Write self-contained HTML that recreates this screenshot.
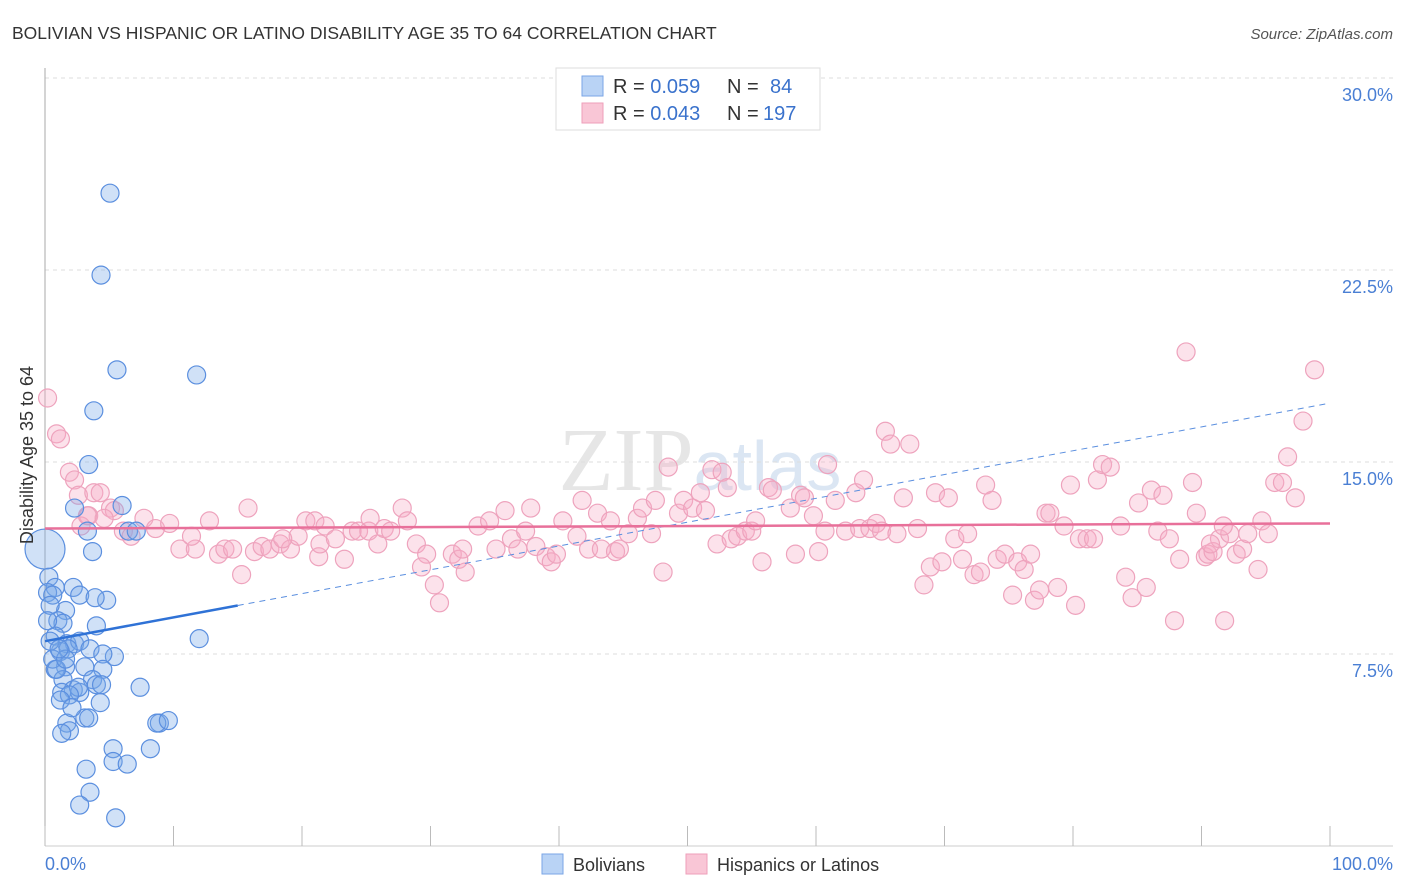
<!DOCTYPE html>
<html><head><meta charset="utf-8">
<style>
body{margin:0;background:#fff;font-family:"Liberation Sans",sans-serif;}
svg{display:block}
</style></head>
<body>
<svg width="1406" height="892" viewBox="0 0 1406 892" xmlns="http://www.w3.org/2000/svg">
<text x="12" y="39" font-size="17.5" fill="#333">BOLIVIAN VS HISPANIC OR LATINO DISABILITY AGE 35 TO 64 CORRELATION CHART</text>
<text x="1393" y="39" font-size="15" fill="#555" font-style="italic" text-anchor="end">Source: ZipAtlas.com</text>
<text x="700" y="490" font-size="90" fill="#e6e6e6" text-anchor="middle" font-family="Liberation Serif,serif">ZIP<tspan fill="#dbe6f3" font-family="Liberation Sans,sans-serif" font-size="70">atlas</tspan></text>
<g id="grid"></g>
<g id="axes"></g>
<g id="pts"></g>
<g id="trends"></g>
<text transform="translate(33,455) rotate(-90)" font-size="18" fill="#333" text-anchor="middle">Disability Age 35 to 64</text>
<text x="45" y="870" font-size="18" fill="#4a7fd4">0.0%</text>
<text x="1393" y="870" font-size="18" fill="#4a7fd4" text-anchor="end">100.0%</text>
<g>
<rect x="556" y="68" width="264" height="62" fill="#fff" stroke="#ddd"/>
<rect x="582" y="76" width="21" height="20" fill="#b9d3f5" stroke="#7aa6e6"/>
<rect x="582" y="103" width="21" height="20" fill="#f9c6d6" stroke="#ee9fba"/>
<text x="613" y="93" font-size="20" fill="#333">R = <tspan fill="#3a72cc">0.059</tspan><tspan x="727">N = </tspan><tspan x="770" fill="#3a72cc">84</tspan></text>
<text x="613" y="120" font-size="20" fill="#333">R = <tspan fill="#3a72cc">0.043</tspan><tspan x="727">N = </tspan><tspan x="763" fill="#3a72cc">197</tspan></text>
</g>
<g>
<rect x="542" y="854" width="21" height="20" fill="#b9d3f5" stroke="#7aa6e6"/>
<text x="573" y="871" font-size="18" fill="#333">Bolivians</text>
<rect x="686" y="854" width="21" height="20" fill="#f9c6d6" stroke="#ee9fba"/>
<text x="717" y="871" font-size="18" fill="#333">Hispanics or Latinos</text>
</g>
</svg>
<script>
const yTicks=[7.5,15,22.5,30];
const yTickLabels=["7.5%","15.0%","22.5%","30.0%"];
const xTicks=[0,10,20,30,40,50,60,70,80,90,100];
const bolX=[5.06,4.36,5.6,11.8,3.8,3.4,6.0,2.3,3.3,6.5,7.1,3.7,0,0.3,0.8,0.2,0.6,2.2,2.7,4.8,1.6,1.0,1.4,4.0,0.8,1.7,2.3,2.7,1.2,1.8,3.5,5.4,4.5,1.6,0.8,3.1,4.5,1.4,3.7,4.0,7.4,4.4,2.2,1.3,2.7,2.6,1.9,1.2,4.3,3.1,3.4,1.7,1.9,8.9,8.7,9.6,5.3,8.2,5.3,6.4,3.2,3.5,2.7,5.5,12.0,0.4,0.2,0.4,0.6,0.9,1.6,2.1,3.9,1.1,1.3];
const bolY=[25.5,22.3,18.6,18.4,17.0,14.9,13.3,13.2,12.3,12.3,12.3,11.5,11.6,10.5,10.1,9.9,9.8,10.1,9.8,9.6,9.2,8.8,8.7,8.6,8.2,7.9,7.9,8.0,7.6,7.7,7.7,7.4,7.5,7.0,6.9,7.0,6.9,6.5,6.5,6.3,6.2,6.3,6.1,6.0,6.0,6.2,5.9,5.7,5.6,5.0,5.0,4.8,4.5,4.8,4.8,4.9,3.8,3.8,3.3,3.2,3.0,2.1,1.6,1.1,8.1,9.4,8.8,8.0,7.3,6.9,7.3,5.4,9.7,7.7,4.4];
const hisX=[0.2,0.9,1.2,1.9,2.3,2.6,3.8,4.3,3.4,5.1,5.4,4.6,2.8,3.3,7.7,6.1,6.7,8.6,9.7,10.5,11.7,11.4,12.8,13.5,14.0,14.6,15.3,15.8,16.3,16.9,17.5,18.3,19.1,19.7,18.5,20.3,21.0,21.3,21.4,21.8,22.6,23.3,23.9,24.4,25.2,25.9,25.3,26.4,26.9,27.8,28.2,28.9,29.7,29.3,30.3,30.7,31.7,32.2,32.7,32.5,33.7,34.6,35.1,35.8,36.3,36.8,37.4,37.8,38.2,39.0,39.4,39.8,40.3,41.4,41.8,42.3,43.0,43.3,44.0,44.4,44.7,45.4,46.1,46.5,47.2,47.5,48.1,48.5,49.3,49.7,50.4,51.0,51.4,51.9,52.7,53.1,52.3,53.4,53.9,54.5,55.0,55.3,55.8,56.3,56.6,58.0,58.4,58.8,59.1,59.8,60.2,60.7,60.9,61.5,62.3,63.1,63.4,63.7,64.2,64.7,65.1,65.4,65.8,66.3,66.8,67.3,67.9,68.4,68.9,69.3,69.8,70.3,70.8,71.4,71.8,72.3,72.8,73.2,73.7,74.1,74.7,75.3,75.7,76.2,76.7,77.0,77.4,77.9,78.2,78.8,79.3,79.8,80.2,80.5,81.1,81.6,81.9,82.3,82.9,83.7,84.1,84.6,85.1,85.7,86.1,86.6,87.0,87.5,87.9,88.3,88.8,89.3,89.6,90.3,90.5,90.9,91.4,91.8,92.2,92.7,93.2,93.6,94.4,94.7,95.2,95.7,96.3,96.7,97.3,97.9,98.8,91.7,90.7];
const hisY=[17.5,16.1,15.9,14.6,14.3,13.7,13.8,13.8,12.9,13.2,13.1,12.8,12.5,12.9,12.8,12.3,12.1,12.4,12.6,11.6,11.6,12.1,12.7,11.4,11.6,11.6,10.6,13.2,11.5,11.7,11.6,11.8,11.6,12.1,12.0,12.7,12.7,11.3,11.8,12.5,12.0,11.2,12.3,12.3,12.3,11.8,12.8,12.4,12.3,13.2,12.7,11.8,11.4,10.9,10.2,9.5,11.4,11.2,10.7,11.6,12.5,12.7,11.6,13.1,12.0,11.6,12.3,13.2,11.7,11.3,11.1,11.4,12.7,12.1,13.5,11.6,13.0,11.6,12.7,11.5,11.6,12.2,12.8,13.2,12.2,13.5,10.7,14.8,13.0,13.5,13.2,13.8,13.1,14.7,14.6,14.0,11.8,12.0,12.1,12.3,12.3,12.7,11.1,14.0,13.9,13.2,11.4,13.7,13.6,12.9,11.5,12.3,14.9,13.5,12.3,13.8,12.4,14.3,12.4,12.6,12.3,16.2,15.7,12.2,13.6,15.7,12.4,10.2,10.9,13.8,11.1,13.6,12.0,11.2,12.2,10.6,10.7,14.1,13.5,11.2,11.4,9.8,11.1,10.8,11.4,9.6,10.0,13.0,13.0,10.1,12.5,14.1,9.4,12.0,12.0,12.0,14.3,14.9,14.8,12.5,10.5,9.7,13.4,10.1,13.9,12.3,13.7,12.0,8.8,11.2,19.3,14.2,13.0,11.3,11.4,11.5,12.0,8.8,12.2,11.4,11.6,12.2,10.8,12.7,12.2,14.2,14.2,15.2,13.6,16.6,18.6,12.5,11.8];
const bolTrend=[8.0,17.3];
const hisTrend=[12.4,12.6];
const NS="http://www.w3.org/2000/svg";
const X0=45,X1=1330,YB=846,YT=78,YMAX=30;
function sx(v){return X0+(X1-X0)*v/100;}
function sy(v){return YB-(YB-YT)*v/YMAX;}
function mk(tag,attrs,parent){const e=document.createElementNS(NS,tag);for(const k in attrs)e.setAttribute(k,attrs[k]);parent.appendChild(e);return e;}
const grid=document.getElementById('grid'),axes=document.getElementById('axes'),pts=document.getElementById('pts'),tr=document.getElementById('trends');
yTicks.forEach((t,i)=>{
 const l=mk('line',{x1:X0,x2:1393,y1:sy(t),y2:sy(t),stroke:'#ddd','stroke-dasharray':'4,4'},grid);
 
 
 const tx=mk('text',{x:1393,y:sy(t)+23,'font-size':18,fill:'#4a7fd4','text-anchor':'end'},grid);
 tx.textContent=yTickLabels[i];
 
 
});
const ax=mk('line',{x1:X0,x2:1393,y1:YB,y2:YB,stroke:'#ccc'},axes);


const ay=mk('line',{x1:X0,x2:X0,y1:68,y2:YB,stroke:'#aaa'},axes);


xTicks.forEach(t=>{
 const l=mk('line',{x1:sx(t),x2:sx(t),y1:826,y2:YB,stroke:'#bbb'},axes);
 
 
});
hisX.forEach((x,i)=>{
 const c=mk('circle',{cx:sx(x),cy:sy(hisY[i]),r:9,fill:'rgba(246,172,198,0.35)',stroke:'#eea3bd','stroke-width':1.2},pts);
 
 
});
bolX.forEach((x,i)=>{
 const c=mk('circle',{cx:sx(x),cy:sy(bolY[i]),r:(x===0?20:9),fill:'rgba(120,168,232,0.35)',stroke:'#5b8fdf','stroke-width':1.2},pts);
 
 
});
const bAt=v=>bolTrend[0]+(bolTrend[1]-bolTrend[0])*v/100;
const t1=mk('line',{x1:sx(0),y1:sy(bAt(0)),x2:sx(15),y2:sy(bAt(15)),stroke:'#2f72d6','stroke-width':2.5},tr);


const t2=mk('line',{x1:sx(15),y1:sy(bAt(15)),x2:sx(100),y2:sy(bAt(100)),stroke:'#5b8fdf','stroke-width':1,'stroke-dasharray':'6,5'},tr);


const t3=mk('line',{x1:sx(0),y1:sy(hisTrend[0]),x2:sx(100),y2:sy(hisTrend[1]),stroke:'#e8709a','stroke-width':2.5},tr);


</script>
</body></html>
